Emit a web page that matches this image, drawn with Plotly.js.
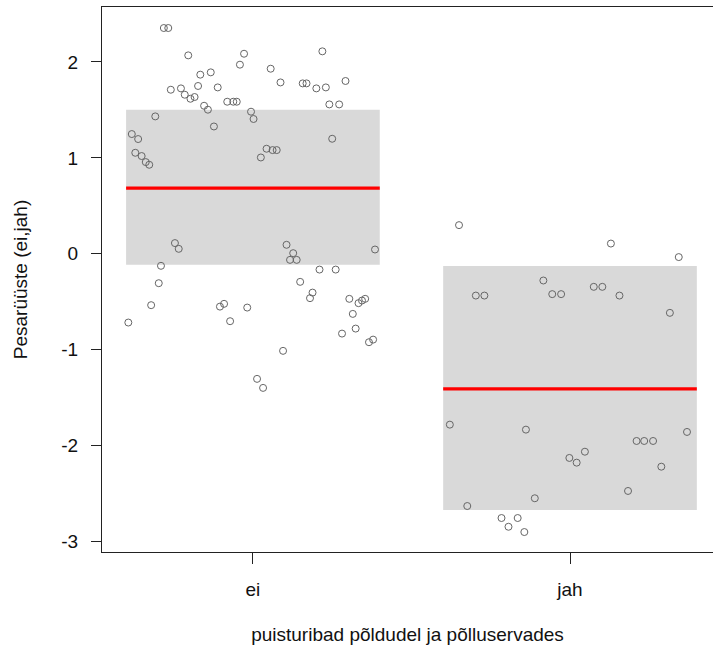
<!DOCTYPE html>
<html>
<head>
<meta charset="utf-8">
<script src="https://cdn.plot.ly/plotly-3.0.1.min.js"></script>
<style>html,body{margin:0;padding:0;background:#fff;overflow:hidden}</style>
</head>
<body>
<div id="chart" style="width:713px;height:652px"></div>
<script>
// Categories and their positions on the x axis
const categories = ["ei", "jah"];
const categoryPos = [1, 2];

// Jittered points, group "ei"
const eiX = [0.719,0.733,0.796,0.972,1.219,0.959,0.834,0.867,1.056,1.087,1.157,1.169,1.292,0.741,0.773,0.827,0.889,1.200,1.230,0.785,0.803,0.816,0.919,0.938,0.949,0.846,0.858,1.241,1.272,0.994,1.002,0.692,0.877,0.618,0.638,1.250,0.629,0.649,0.662,0.673,1.043,1.062,1.075,1.025,0.754,0.766,1.106,1.127,1.117,1.138,1.385,0.710,1.210,1.261,0.703,1.149,1.188,1.180,0.679,0.896,0.909,0.982,1.304,1.333,1.344,1.354,1.315,0.607,0.928,1.324,1.281,1.366,1.379,1.095,1.013,1.032];
const eiY = [2.353,2.353,2.068,2.085,2.110,1.971,1.867,1.891,1.929,1.786,1.776,1.776,1.801,1.710,1.724,1.749,1.734,1.724,1.734,1.658,1.616,1.634,1.585,1.585,1.585,1.543,1.502,1.557,1.557,1.481,1.405,1.432,1.327,1.248,1.196,1.199,1.053,1.019,0.956,0.928,1.095,1.081,1.081,1.004,0.112,0.052,0.094,0.007,-0.063,-0.063,0.045,-0.125,-0.164,-0.164,-0.306,-0.292,-0.404,-0.462,-0.535,-0.550,-0.521,-0.560,-0.469,-0.514,-0.487,-0.469,-0.626,-0.716,-0.702,-0.779,-0.831,-0.921,-0.894,-1.011,-1.303,-1.397];

// Jittered points, group "jah"
const jahX = [1.650,2.129,2.343,1.916,1.703,1.730,1.944,1.972,2.075,2.102,2.156,2.315,1.621,1.861,2.369,2.210,2.234,2.262,2.047,1.998,2.021,2.288,2.183,1.889,1.676,1.784,1.835,1.806,1.856];
const jahY = [0.299,0.107,-0.034,-0.278,-0.435,-0.435,-0.420,-0.420,-0.344,-0.344,-0.435,-0.615,-1.780,-1.832,-1.856,-1.950,-1.950,-1.950,-2.062,-2.127,-2.176,-2.218,-2.471,-2.547,-2.628,-2.753,-2.753,-2.844,-2.899];

// Group summaries (mean line and shaded band)
const groupMean = [0.685, -1.408];
const bandLow = [-0.115, -2.669];
const bandHigh = [1.502, -0.128];

const yTicks = [-3, -2, -1, 0, 1, 2];

const halfW = 0.4;
const font = "Liberation Sans, Arial, sans-serif";
const txt = "#111";

const shapes = categoryPos.map((p, i) => ({
  type: "rect", xref: "x", yref: "y", layer: "below",
  x0: p - halfW, x1: p + halfW, y0: bandLow[i], y1: bandHigh[i],
  fillcolor: "#d9d9d9", line: {width: 0}
}));

const pointStyle = {
  symbol: "circle-open", size: 7, color: "#666666", line: {width: 1, color: "#666666"}
};

const traces = [
  {x: eiX, y: eiY, type: "scatter", mode: "markers", marker: pointStyle, hoverinfo: "x+y"},
  {x: jahX, y: jahY, type: "scatter", mode: "markers", marker: pointStyle, hoverinfo: "x+y"}
];
categoryPos.forEach((p, i) => {
  traces.push({
    x: [p - halfW, p + halfW], y: [groupMean[i], groupMean[i]],
    type: "scatter", mode: "lines", line: {color: "#ff0000", width: 3.2}, hoverinfo: "y"
  });
});

const layout = {
  width: 713, height: 652,
  margin: {l: 102, r: 0, t: 7, b: 100, pad: 0},
  paper_bgcolor: "#ffffff", plot_bgcolor: "#ffffff",
  showlegend: false,
  font: {family: font, size: 19, color: txt},
  shapes: shapes,
  xaxis: {
    range: [0.524, 2.451],
    tickvals: categoryPos, ticktext: categories,
    ticks: "outside", ticklen: 11, tickwidth: 1, tickcolor: "#222",
    showline: true, linecolor: "#222", linewidth: 1, mirror: true,
    showgrid: false, zeroline: false,
    tickfont: {family: font, size: 19, color: txt},
    ticklabelstandoff: 9,
    title: {text: "puisturibad põldudel ja põlluservades", font: {family: font, size: 19, color: txt}, standoff: 28}
  },
  yaxis: {
    range: [-3.107, 2.572],
    tickvals: yTicks, ticktext: yTicks.map(String),
    ticks: "outside", ticklen: 10, tickwidth: 1, tickcolor: "#222",
    showline: true, linecolor: "#222", linewidth: 1,
    showgrid: false, zeroline: false,
    tickfont: {family: font, size: 19, color: txt},
    ticklabelstandoff: 9,
    title: {text: "Pesarüüste (ei,jah)", font: {family: font, size: 19, color: txt}, standoff: 28}
  }
};

Plotly.newPlot("chart", traces, layout, {displayModeBar: false, staticPlot: true});
</script>
</body>
</html>
